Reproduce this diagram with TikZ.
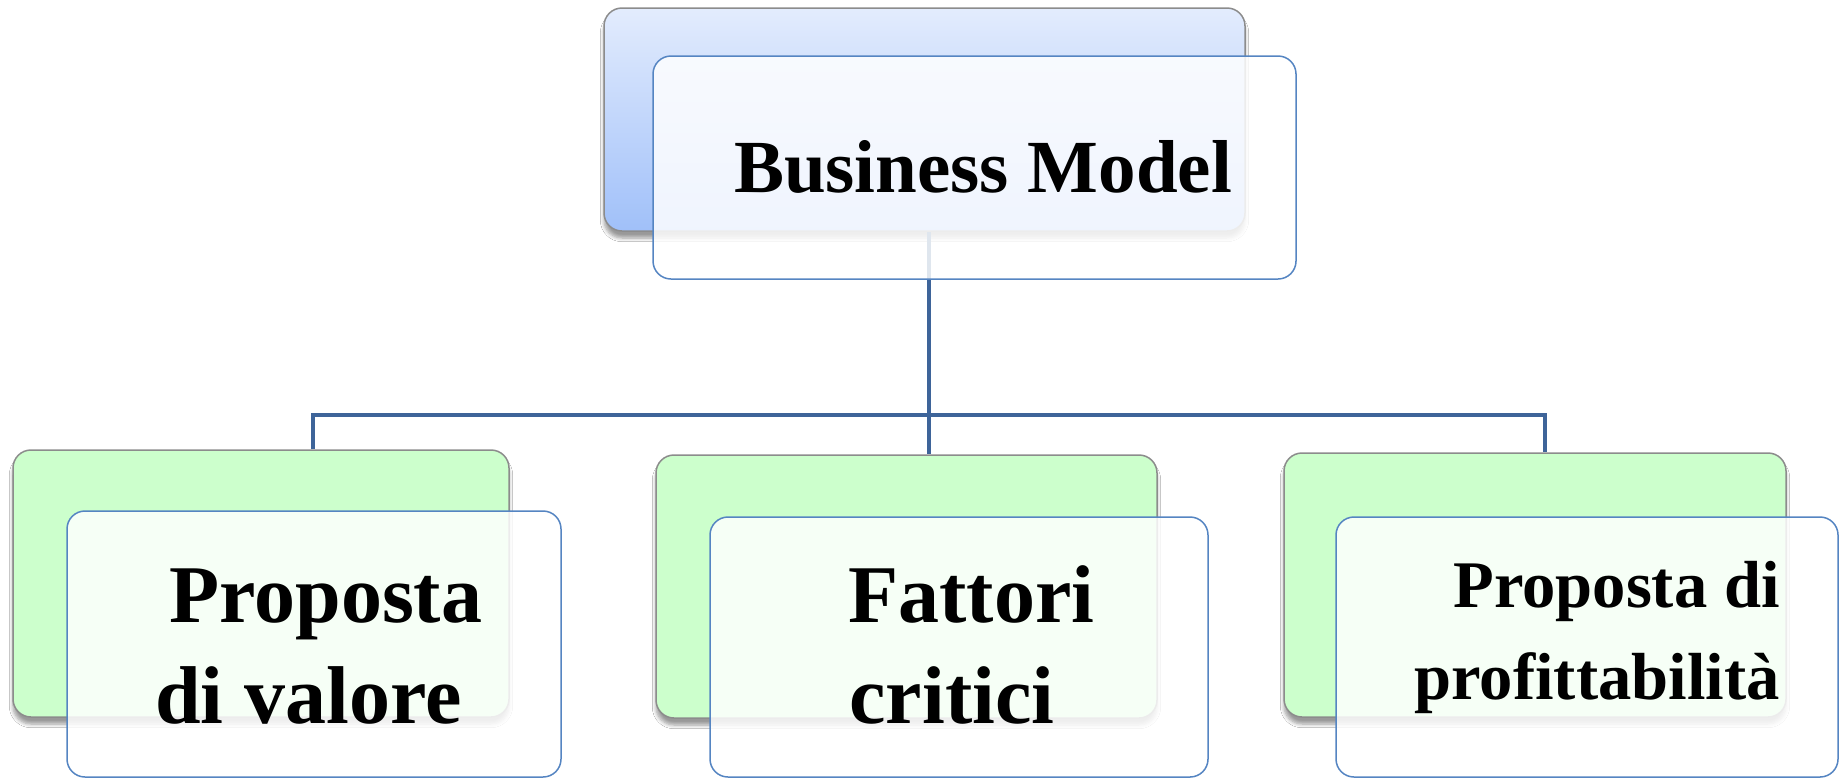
\documentclass[tikz,border=0pt]{standalone}
\usepackage{fontspec}
\setmainfont{Liberation Serif}
\usetikzlibrary{shadows.blur}
\definecolor{conncol}{HTML}{3E6499}
\definecolor{frontcol}{HTML}{5585C2}
\definecolor{greenfill}{HTML}{CCFFCC}
\definecolor{backline}{HTML}{8C8C8C}
\definecolor{bluetop}{HTML}{E3ECFD}
\definecolor{bluebot}{HTML}{A0C0F9}
\begin{document}
\begin{tikzpicture}[x=0.5pt,y=-0.5pt,
  backbox/.style={rounded corners=9pt, draw=backline, line width=0.75pt, inner sep=0pt,
    blur shadow={shadow xshift=0pt, shadow yshift=-3.5pt, shadow blur steps=6, shadow opacity=40}},
  frontbox/.style={rounded corners=9pt, draw=frontcol, line width=0.75pt, inner sep=0pt,
    fill=white, fill opacity=0.84},
  conn/.style={draw=conncol, line width=2.2pt},
  lblbig/.style={inner sep=0pt, font=\fontsize{41}{48}\selectfont\bfseries},
  lblmid/.style={inner sep=0pt, font=\fontsize{37.5}{45}\selectfont\bfseries},
  lblsmall/.style={inner sep=0pt, font=\fontsize{33.3}{40}\selectfont\bfseries}]
\useasboundingbox (0,0) rectangle (1839,778);
\fill[white] (0,0) rectangle (1839,778);

% back boxes
\node[backbox, top color=bluetop, bottom color=bluebot, minimum width=320.5pt, minimum height=111.5pt] (tb) at (924.5,119.5) {};
\node[backbox, fill=greenfill, minimum width=248pt, minimum height=133.5pt] (lb) at (261,583.5) {};
\node[backbox, fill=greenfill, minimum width=250.5pt, minimum height=131.5pt] (mb) at (906.5,586.5) {};
\node[backbox, fill=greenfill, minimum width=251pt, minimum height=132pt] (rb) at (1535,585) {};

% connectors
\coordinate (hub) at ([xshift=2.25pt, yshift=-91.5pt]tb.south);
\draw[conn] ([xshift=2.25pt]tb.south) -- (hub);
\draw[conn] ([xshift=26pt]lb.north) |- (hub) -| ([xshift=5pt]rb.north);
\draw[conn] (hub) -- (hub |- mb.north);

% front boxes
\node[frontbox, minimum width=321.5pt, minimum height=111.5pt] (tf) at (974.5,167.5) {};
\node[frontbox, minimum width=247pt, minimum height=133pt] (lf) at (314,644) {};
\node[frontbox, minimum width=249pt, minimum height=130pt] (mf) at (959,647) {};
\node[frontbox, minimum width=251pt, minimum height=130pt] (rf) at (1587,647) {};

% texts
\node[lblmid, anchor=base] (t0) at (983,192) {Business Model};
\node[lblbig, anchor=base west] (t1a) at (169,622) {Proposta};
\node[lblbig, anchor=base west] (t1b) at (155,723) {di valore};
\node[lblbig, anchor=base west] (t2a) at (848,622) {Fattori};
\node[lblbig, anchor=base west] (t2b) at (849,723) {critici};
\node[lblsmall, anchor=base east] (t3a) at (1780,607) {Proposta di};
\node[lblsmall, anchor=base east] (t3b) at (1780,699) {profittabilità};
\end{tikzpicture}
\end{document}
